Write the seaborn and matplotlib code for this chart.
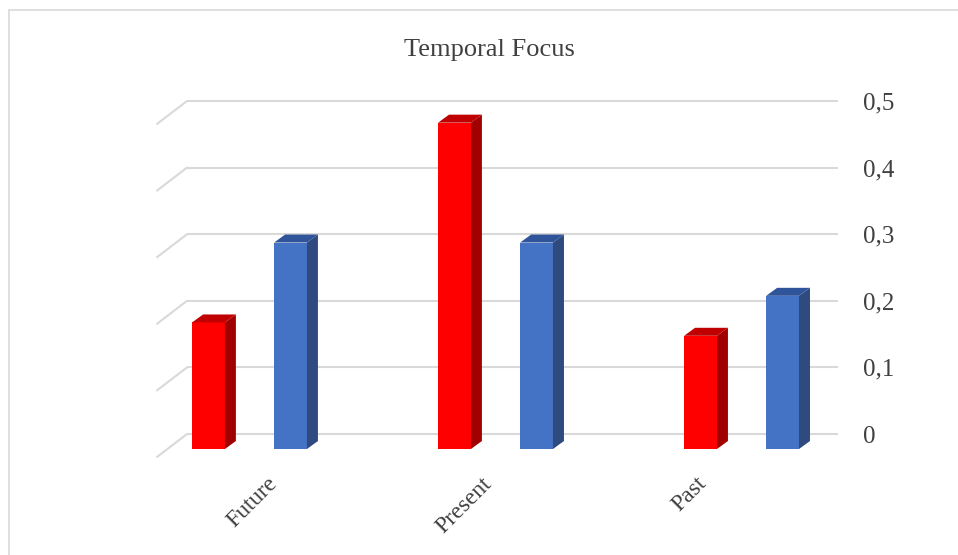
import matplotlib
matplotlib.use("Agg")
import matplotlib.pyplot as plt
from matplotlib.patches import Polygon
from matplotlib.lines import Line2D
import matplotlib.transforms as mtransforms
import numpy as np
import pandas as pd
import seaborn as sns

# ---- data -------------------------------------------------------------
categories = ["Future", "Present", "Past"]
series_names = ["Series 1", "Series 2"]
series1_values = [0.19, 0.49, 0.17]
series2_values = [0.31, 0.31, 0.23]
tick_values = [0, 0.1, 0.2, 0.3, 0.4, 0.5]
tick_labels = ["0", "0,1", "0,2", "0,3", "0,4", "0,5"]
title = "Temporal Focus"

# ---- styling ----------------------------------------------------------
front_colors = ["#FF0000", "#4472C4"]
side_colors = ["#A00000", "#2E4A7E"]
top_colors = ["#C00000", "#30549A"]
grid_color = "#D9D9D9"
text_color = "#404040"

sns.set_theme(style="white")
plt.rcParams["font.family"] = ["Liberation Serif", "DejaVu Serif"]

df = pd.DataFrame({
    "category": categories * 2,
    "series": [series_names[0]] * 3 + [series_names[1]] * 3,
    "value": series1_values + series2_values,
})

fig = plt.figure(figsize=(9.58, 5.55), dpi=100)
ax = fig.add_axes([157 / 958, 95 / 555, 681 / 958, 365 / 555])

sns.barplot(data=df, x="category", y="value", hue="series",
            palette=front_colors, saturation=1, width=0.667, gap=0.6,
            edgecolor="none", linewidth=0, legend=False,
            errorbar=None, ax=ax, zorder=3)

ax.set_xlim(-0.376, 2.392)
ax.set_ylim(-0.0165, 0.5315)

# oblique depth of the bars and of the back wall
depth_dx = 0.0447
depth_dy = 0.012
wall_offset = 0.0225
floor_drop = 0.0345
wall_left = -0.254

# back-wall gridlines with their floor diagonals
for v in tick_values:
    y = v + wall_offset
    ax.plot([wall_left, 2.392], [y, y], color=grid_color, lw=1.5,
            zorder=1, solid_capstyle="butt", clip_on=False)
    ax.plot([-0.376, wall_left], [y - floor_drop, y], color=grid_color,
            lw=1.5, zorder=1, clip_on=False)

# side and top faces of each bar
bars = [p for p in ax.patches]
for i, bar in enumerate(bars):
    s = i // len(categories)
    x0 = bar.get_x()
    x1 = x0 + bar.get_width()
    h = bar.get_height()
    side = Polygon([(x1, 0), (x1 + depth_dx, depth_dy),
                    (x1 + depth_dx, h + depth_dy), (x1, h)],
                   closed=True, facecolor=side_colors[s], edgecolor="none",
                   zorder=3)
    top = Polygon([(x0, h), (x0 + depth_dx, h + depth_dy),
                   (x1 + depth_dx, h + depth_dy), (x1, h)],
                  closed=True, facecolor=top_colors[s], edgecolor="none",
                  zorder=3)
    ax.add_patch(side)
    ax.add_patch(top)

# value axis on the right
ax.yaxis.tick_right()
ax.set_yticks([v + wall_offset for v in tick_values])
ax.set_yticklabels(tick_labels, fontsize=18, color=text_color)
ax.tick_params(axis="y", length=0, pad=18)
ax.set_xticks([])
ax.set_xlabel("")
ax.set_ylabel("")
for sp in ax.spines.values():
    sp.set_visible(False)

# rotated category labels
label_shift = 0.068
label_step = 0.874
trans = mtransforms.blended_transform_factory(ax.transData, ax.transAxes)
for i, cat in enumerate(categories):
    ax.text(label_shift + i * label_step, -0.036, cat, transform=trans,
            rotation=45, rotation_mode="anchor", ha="right", va="top",
            fontsize=17, color=text_color)

fig.text(489 / 958, 1 - 56 / 555, title, ha="center", va="baseline",
         fontsize=19, color=text_color)

# chart-area frame
fig.add_artist(Line2D([9 / 958, 1], [1 - 10 / 555, 1 - 10 / 555],
                      transform=fig.transFigure, color=grid_color, lw=1.2))
fig.add_artist(Line2D([9 / 958, 9 / 958], [0, 1 - 10 / 555],
                      transform=fig.transFigure, color=grid_color, lw=1.2))

fig.savefig("out.png", dpi=100, facecolor="white")
